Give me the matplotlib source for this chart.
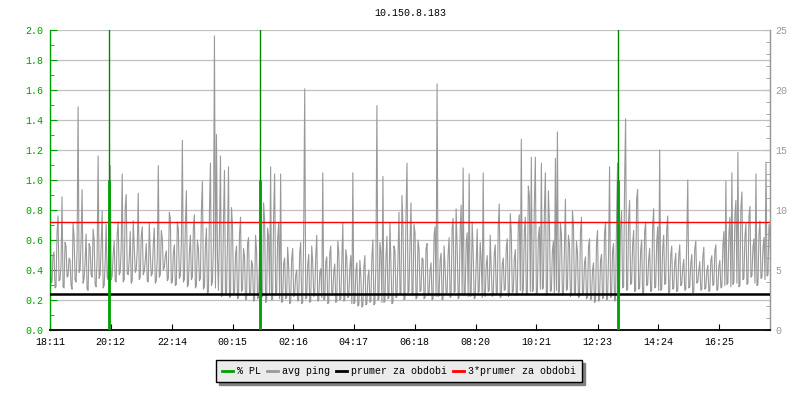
import numpy as np
import matplotlib
matplotlib.use('Agg')
import matplotlib.pyplot as plt
from matplotlib.lines import Line2D

plt.rcParams['font.family'] = ['Liberation Mono', 'DejaVu Sans Mono']

# --- data ---
title = '10.150.8.183'
time_labels = ['18:11', '20:12', '22:14', '00:15', '02:16', '04:17',
               '06:18', '08:20', '10:21', '12:23', '14:24', '16:25']
sample_step = 2      # minutes between ping samples
span_min = 1436      # width of the time window

# avg ping [ms], one sample every 2 min
ping_ms = [
    # 18:11 - 20:10
    12.1, 3.9, 4.0, 6.2, 6.5, 3.5, 3.6, 8.1, 9.5, 4.1, 4.2, 5.4, 11.1, 3.6, 3.5, 7.3,
    7.0, 4.4, 4.5, 6.0, 5.8, 3.7, 3.4, 8.9, 7.8, 4.2, 4.0, 6.6, 18.6, 4.8, 5.0, 7.4,
    11.7, 3.9, 4.3, 5.7, 8.0, 3.4, 3.3, 7.2, 6.9, 4.6, 4.4, 8.4, 7.5, 3.8, 3.6, 6.1,
    14.5, 4.3, 4.6, 7.0, 9.9, 3.5, 3.7, 5.6, 8.8, 4.4, 4.2, 9.7,
    # 20:10 - 22:10
    13.7, 4.2, 4.5, 6.3, 7.4, 4.1, 4.0, 8.0, 9.0, 4.6, 4.8, 6.9, 13.0, 4.0, 4.2, 10.2,
    11.3, 4.7, 4.6, 5.9, 8.2, 3.9, 4.1, 9.1, 7.0, 4.8, 5.0, 6.7, 11.4, 4.2, 4.4, 7.8,
    8.6, 4.6, 4.9, 5.8, 7.2, 4.1, 4.0, 8.9, 6.4, 4.5, 4.7, 7.1, 8.5, 3.9, 4.1, 6.0,
    13.7, 4.4, 4.6, 8.3, 7.6, 5.0, 5.2, 6.2, 6.6, 4.1, 4.3, 9.8,
    # 22:10 - 23:20
    9.3, 3.9, 4.0, 6.4, 7.1, 3.7, 3.8, 9.0, 8.4, 4.3, 4.5, 7.2, 15.8, 4.0, 4.2, 8.8,
    11.6, 3.6, 3.8, 6.5, 7.9, 4.2, 4.4, 8.6, 9.6, 3.5, 3.7, 7.5, 6.8, 4.1, 4.3, 10.0,
    12.4, 3.4, 3.6, 7.0,
    # 23:20 - 01:10
    8.5, 3.0, 3.2, 9.8, 13.9, 3.7, 4.0, 7.1, 24.5, 3.5, 16.3, 6.0, 3.3, 8.2, 14.5, 2.8,
    2.9, 9.1, 13.3, 2.9, 3.0, 7.4, 13.6, 2.7, 2.8, 10.2, 8.7, 3.0, 3.1, 6.3, 7.0, 2.6,
    2.7, 8.0, 9.4, 3.2, 3.4, 6.8, 6.1, 2.5, 2.6, 7.2, 7.7, 2.9, 3.0, 5.8, 5.4, 2.4,
    2.5, 7.9, 6.6, 2.6, 2.7, 6.0,
    # 01:10 - 04:10
    8.4, 2.7, 2.8, 10.6, 9.2, 2.3, 2.4, 8.5, 7.8, 3.1, 13.6, 2.5, 2.6, 9.4, 13.0, 2.9,
    3.0, 7.6, 8.9, 2.6, 13.0, 2.3, 2.4, 5.5, 6.0, 2.6, 2.7, 6.9, 5.3, 2.2, 2.3, 5.9,
    6.8, 2.8, 2.9, 4.6, 5.0, 2.4, 2.5, 6.4, 7.3, 2.2, 2.3, 8.1, 20.1, 2.6, 2.7, 5.4,
    6.3, 2.3, 2.4, 7.0, 5.6, 2.8, 2.9, 6.1, 7.9, 2.4, 2.5, 4.8, 5.1, 2.7, 13.1, 2.5,
    2.6, 5.7, 6.1, 2.2, 2.3, 6.4, 7.0, 2.9, 3.0, 4.9, 5.5, 2.3, 2.4, 7.4, 6.5, 2.5,
    2.6, 5.6, 8.9, 2.4, 2.5, 6.7, 6.0, 2.7, 2.8, 5.2,
    # 04:10 - 06:35
    6.2, 2.2, 13.1, 2.2, 2.3, 4.9, 5.6, 2.0, 2.1, 5.8, 4.5, 1.9, 2.0, 5.2, 6.2, 2.1,
    2.2, 4.4, 5.0, 2.3, 2.4, 6.1, 7.5, 2.1, 2.2, 5.5, 18.7, 2.5, 2.6, 7.3, 6.5, 2.3,
    12.8, 2.3, 2.4, 6.0, 7.8, 2.6, 2.7, 8.9, 5.4, 2.2, 2.3, 7.0, 6.6, 2.7, 2.8, 5.9,
    9.8, 3.0, 3.1, 11.2, 8.7, 2.5, 2.6, 9.6, 13.9, 3.1, 3.2, 7.4, 10.6, 2.9, 3.0, 8.8,
    8.1, 2.6, 2.7, 7.5, 6.8, 3.2, 3.3, 6.0,
    # 06:35 - 08:30
    5.9, 2.6, 2.7, 6.8, 7.2, 2.9, 3.0, 5.0, 5.6, 2.5, 2.6, 7.9, 8.6, 2.8, 20.5, 2.8,
    2.9, 5.8, 6.4, 2.5, 2.6, 7.0, 5.2, 3.0, 3.1, 6.3, 7.7, 2.7, 2.8, 8.5, 9.3, 3.1,
    3.2, 10.1, 7.0, 2.6, 2.7, 8.3, 10.4, 2.9, 13.5, 2.9, 3.0, 7.2, 8.1, 2.8, 13.0, 2.8,
    2.9, 9.0, 6.5, 2.6, 2.7, 5.7, 8.4, 3.1, 3.2, 7.3,
    # 08:30 - 09:55
    5.8, 2.7, 13.1, 2.9, 2.8, 5.4, 6.2, 3.2, 3.3, 7.9, 5.1, 2.8, 2.9, 6.4, 7.1, 3.0,
    3.1, 8.6, 10.5, 2.7, 2.8, 5.5, 6.0, 3.3, 3.4, 6.8, 7.6, 2.8, 2.9, 9.7, 8.1, 3.1,
    3.2, 5.9, 6.7, 2.9, 3.0, 8.8, 9.6, 3.3, 15.9, 3.0,
    # 09:55 - 13:05
    3.4, 8.2, 9.4, 2.9, 3.0, 12.0, 11.2, 3.2, 14.4, 3.2, 3.3, 10.4, 14.4, 3.0, 3.1, 7.7,
    8.6, 3.4, 13.9, 3.4, 3.5, 9.8, 13.1, 2.9, 3.0, 11.6, 9.1, 3.2, 3.3, 6.6, 7.4, 3.1,
    14.3, 3.3, 16.5, 3.1, 3.2, 8.9, 8.0, 2.9, 3.0, 6.7, 10.9, 3.3, 3.4, 7.9, 7.2, 2.8,
    2.9, 9.9, 8.8, 3.0, 3.1, 7.4, 6.5, 2.7, 2.8, 8.2, 9.4, 2.9, 3.0, 5.6, 6.1, 2.6,
    2.7, 6.9, 7.6, 2.5, 2.6, 5.0, 5.6, 2.3, 2.4, 7.2, 8.3, 2.4, 2.5, 5.8, 6.3, 2.6,
    2.7, 8.1, 9.0, 2.5, 2.6, 6.2, 13.6, 2.7, 2.8, 6.6, 7.2, 2.4, 2.5, 9.3, 13.9, 3.1,
    # 13:05 - 14:55
    3.2, 8.6, 9.9, 3.5, 3.6, 12.2, 17.6, 3.3, 3.4, 9.2, 10.8, 3.8, 3.9, 7.1, 8.3, 3.2,
    3.3, 10.9, 11.7, 3.4, 3.5, 6.6, 7.5, 3.0, 3.1, 8.2, 9.0, 3.7, 3.8, 5.9, 6.8, 3.2,
    3.3, 8.7, 10.1, 3.5, 3.6, 7.3, 8.6, 3.3, 15.0, 3.3, 3.4, 6.9, 7.9, 3.8, 3.9, 8.4,
    9.5, 3.1, 3.2, 6.2, 7.0, 3.4,
    # 14:55 - 16:55
    3.5, 5.6, 6.4, 3.2, 3.3, 6.2, 7.1, 3.7, 3.8, 5.2, 5.9, 3.3, 3.4, 7.5, 12.5, 3.5,
    3.6, 5.5, 6.3, 3.1, 3.2, 6.8, 7.4, 3.9, 4.0, 5.0, 5.7, 3.3, 3.4, 6.1, 6.9, 3.4,
    3.5, 4.9, 5.4, 3.2, 3.3, 5.8, 6.2, 3.7, 3.8, 6.6, 7.1, 3.3, 3.4, 5.3, 5.8, 3.5,
    3.6, 7.0, 8.2, 3.7, 12.4, 3.8, 3.9, 8.0, 9.4, 3.6, 13.1, 3.8,
    # 16:55 - 18:07
    4.0, 9.6, 10.8, 3.9, 14.8, 3.6, 3.7, 10.2, 11.5, 4.2, 4.3, 7.8, 8.9, 3.8, 3.9, 9.4,
    10.3, 4.4, 4.5, 6.9, 7.6, 3.9, 13.0, 3.7, 3.8, 8.0, 9.1, 4.3, 4.4, 6.8, 7.7, 4.2,
    14.0, 4.5, 4.6, 8.8, 7.9, 4.3,
]

# packet loss events (minutes from start)
pl_times = [117, 418, 1132]
pl_base = [1.0, 1.0, 1.0]
pl_peak = [100, 100, 100]

mean_ms = 3.0
mean3_ms = 9.0
ms_per_unit = 12.5   # right axis 25 ms == left axis 2.0

GREEN = '#00a000'
GRAY = '#999999'
GRID = '#c0c0c0'
FS = 7.2


def label_to_min(lbl, start):
    h, m = map(int, lbl.split(':'))
    return (h * 60 + m - start) % 1440


start_h, start_m = map(int, time_labels[0].split(':'))
start = start_h * 60 + start_m
tick_pos = [label_to_min(l, start) for l in time_labels]

t = np.arange(len(ping_ms)) * sample_step
ping = np.array(ping_ms) / ms_per_unit

fig = plt.figure(figsize=(8, 4), dpi=100)
ax = fig.add_axes([0.0625, 0.175, 0.9, 0.75])

ax.set_xlim(0, span_min)
ax.set_ylim(0, 2.0)

# grid
for y in np.arange(0.2, 2.01, 0.2):
    ax.axhline(y, color=GRID, lw=0.9, zorder=1)

ax.plot(t, ping, color=GRAY, lw=0.8, zorder=2)
ax.axhline(mean_ms / ms_per_unit, color='black', lw=1.8, zorder=3)
ax.axhline(mean3_ms / ms_per_unit, color='red', lw=1.0, zorder=3)
ax.vlines(pl_times, 0, pl_peak, color='#008800', lw=1.0, zorder=4)
ax.vlines(pl_times, 0, pl_base, color=GREEN, lw=2.0, zorder=4)

# spines
ax.spines['top'].set_visible(False)
ax.spines['left'].set_color(GREEN)
ax.spines['right'].set_color(GRAY)
ax.spines['bottom'].set_color('black')
ax.spines['bottom'].set_linewidth(1.3)
ax.spines['left'].set_linewidth(1.0)
ax.spines['right'].set_linewidth(1.0)

# left axis
ax.set_yticks(np.arange(0, 2.01, 0.2))
ax.set_yticks(np.arange(0.1, 2.0, 0.2), minor=True)
ax.set_yticklabels(['%.1f' % v for v in np.arange(0, 2.01, 0.2)])
ax.tick_params(axis='y', which='both', direction='in', colors=GREEN,
               labelsize=FS, pad=5, right=False)
ax.tick_params(axis='y', which='major', length=5)
ax.tick_params(axis='y', which='minor', length=3)

# bottom axis
ax.set_xticks(tick_pos)
ax.set_xticklabels(time_labels)
ax.tick_params(axis='x', direction='in', length=4, colors='black',
               labelsize=FS, pad=5)

# right axis in ms
sec = ax.secondary_yaxis('right', functions=(lambda y: y * ms_per_unit,
                                             lambda v: v / ms_per_unit))
sec.set_yticks(np.arange(0, 26, 5))
sec.set_yticks(np.arange(0, 26, 1), minor=True)
sec.spines['right'].set_color(GRAY)
sec.tick_params(axis='y', which='both', direction='in', colors=GRAY,
                labelsize=FS, pad=4)
sec.tick_params(axis='y', which='major', length=4)
sec.tick_params(axis='y', which='minor', length=3)

fig.text(410 / 800, 1 - 13 / 400, title, ha='center', va='center', fontsize=FS)

handles = [Line2D([], [], color=GREEN, lw=2),
           Line2D([], [], color=GRAY, lw=2),
           Line2D([], [], color='black', lw=2),
           Line2D([], [], color='red', lw=2)]
labels = ['% PL', 'avg ping', 'prumer za obdobi', '3*prumer za obdobi']
leg = fig.legend(handles, labels, loc='center', bbox_to_anchor=(0.499, 0.0725),
                 ncol=4, fontsize=FS, handlelength=1.1, handletextpad=0.4,
                 columnspacing=0.6, borderpad=0.6, fancybox=False, framealpha=1,
                 shadow={'color': '#808080', 'alpha': 1})
leg.get_frame().set_edgecolor('black')
leg.get_frame().set_facecolor('#ebebeb')
leg.get_frame().set_linewidth(1.0)

fig.savefig('out.png', dpi=100)
